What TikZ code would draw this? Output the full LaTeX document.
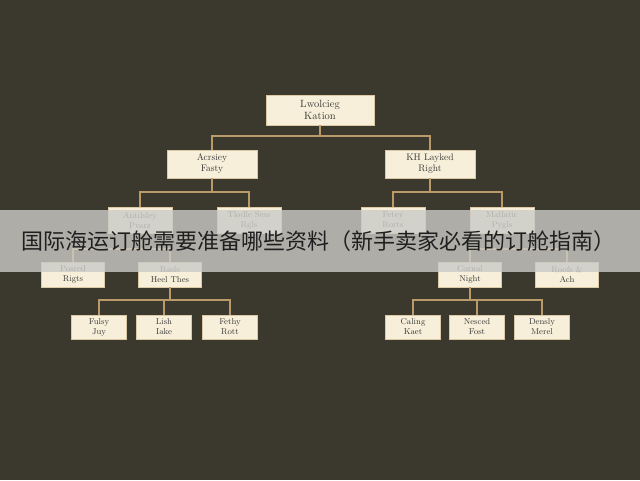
\documentclass[tikz,border=0pt]{standalone}
\usepackage{fontspec}
\newfontfamily\cjk{Noto Sans CJK SC}
\usetikzlibrary{positioning}
\definecolor{bgolive}{HTML}{3B392E}
\definecolor{boxcream}{HTML}{F7EFD9}
\definecolor{linktan}{HTML}{B99A68}
\definecolor{bannergray}{HTML}{CBCBC7}

\begin{document}
\begin{tikzpicture}[x=1pt,y=-1pt,
  box/.style={fill=boxcream,draw=linktan!45!boxcream,line width=0.5pt,
    text=black!78,align=center,inner sep=0pt,
    font=\fontsize{8.5}{10}\selectfont},
  rootbox/.style={box,minimum width=108pt,minimum height=30pt,
    font=\fontsize{10.5}{12}\selectfont},
  midbox/.style={box,minimum width=90pt,minimum height=28pt,
    font=\fontsize{9.5}{11}\selectfont},
  subbox/.style={box,minimum width=64pt,minimum height=26pt},
  leafbox/.style={box,minimum width=63pt,minimum height=25pt},
  tipbox/.style={box,minimum width=55pt,minimum height=24pt},
  link/.style={draw=linktan,line width=1.4pt}]
  \useasboundingbox (0,0) rectangle (640,480);
  \fill[bgolive] (0,0) rectangle (640,480);
% bus levels
  \coordinate (busA) at (0,136);
  \coordinate (busB) at (0,192);
  \coordinate (busC) at (0,249);
  \coordinate (busD) at (0,300);
% boxes
  \node[rootbox] (root) at (320,110) {Lwolcieg\\Kation};
  \node[midbox] (acr) at (212,164) {Acrsiey\\Fasty};
  \node[midbox] (kh) at (430,164) {KH Layked\\Right};
  \node[subbox] (ant) at (140,220) {Antilsley\\Pvarz};
  \node[subbox] (tlo) at (249,220) {Tlodle Sess\\Rgls};
  \node[subbox] (fet) at (393,220) {Fetey\\Rorts};
  \node[subbox] (mal) at (502,220) {Malfatic\\Pygls};
  \node[leafbox] (pos) at (73,274.5) {Posred\\Rigts};
  \node[leafbox] (bas) at (170,274.5) {Basle\\Heel Thes};
  \node[leafbox] (cor) at (470,274.5) {Cornal\\Night};
  \node[leafbox] (roo) at (567,274.5) {Roofs \&\\Ach};
  \node[tipbox] (ful) at (99,327) {Fulsy\\Juy};
  \node[tipbox] (lis) at (164,327) {Lish\\Iake};
  \node[tipbox] (fth) at (230,327) {Fethy\\Rott};
  \node[tipbox] (cal) at (413,327) {Caling\\Kaet};
  \node[tipbox] (nes) at (477,327) {Nesced\\Fost};
  \node[tipbox] (den) at (542,327) {Densly\\Merel};
% connectors
  \draw[link] (root.south) -- (root |- busA) -| (acr.north);
  \draw[link] (root |- busA) -| (kh.north);
  \draw[link] (acr.south) -- (acr |- busB) -| (ant.north);
  \draw[link] (acr |- busB) -| (tlo.north);
  \draw[link] (kh.south) -- (kh |- busB) -| (fet.north);
  \draw[link] (kh |- busB) -| (mal.north);
  \draw[link] (ant.south) -- (ant |- busC) -| (pos.north);
  \draw[link] (ant |- busC) -| (bas.north);
  \draw[link] (mal.south) -- (mal |- busC) -| (cor.north);
  \draw[link] (mal |- busC) -| (roo.north);
  \draw[link] (bas.south) -- (bas |- busD) -| (ful.north);
  \draw[link] (bas |- busD) -| (lis.north);
  \draw[link] (bas |- busD) -| (fth.north);
  \draw[link] (cor.south) -- (cor |- busD) -| (cal.north);
  \draw[link] (cor |- busD) -| (nes.north);
  \draw[link] (cor |- busD) -| (den.north);
% banner
  \fill[bannergray,opacity=0.8] (0,210) rectangle (640,272);
  \node[text=black!88,font=\cjk\fontsize{22}{24}\selectfont,inner sep=0pt]
    (title) at (318.5,241) {国际海运订舱需要准备哪些资料（新手卖家必看的订舱指南）};
\end{tikzpicture}
\end{document}
